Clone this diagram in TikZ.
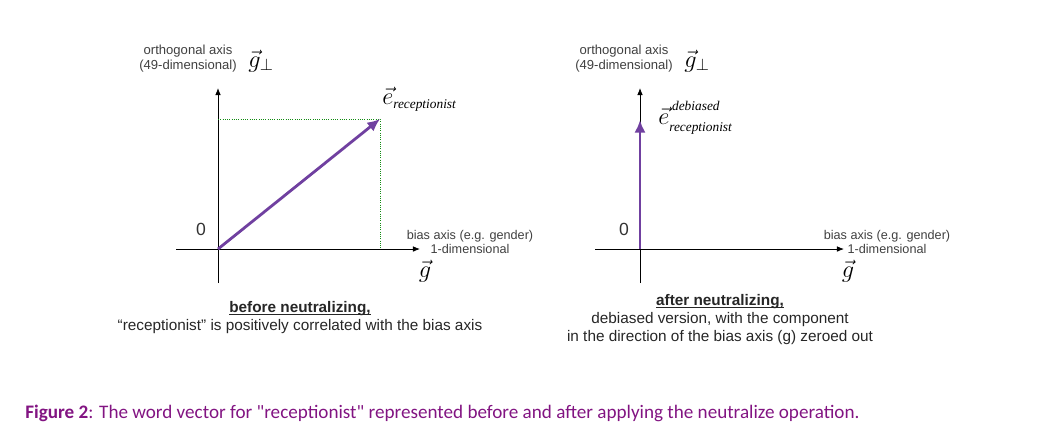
\documentclass[tikz,border=0pt]{standalone}
\usepackage{fontspec}
\setmainfont{Liberation Sans}
\newfontfamily\capfont{Carlito}
\newfontfamily\idxfont{Liberation Serif}
\usetikzlibrary{arrows.meta}

\definecolor{vecpurple}{RGB}{112,64,160}
\definecolor{projgreen}{RGB}{20,140,20}
\definecolor{figpurple}{RGB}{130,20,130}

\newcommand{\vidx}[1]{\mbox{\fontsize{9.5}{10}\idxfont\itshape #1}}
\newcommand{\ulhead}[1]{\underline{\smash{\textbf{#1}}}}

\begin{document}
\begin{tikzpicture}[
    x=0.025cm, y=-0.025cm,
    axis/.style={-{Latex[length=5pt,width=4pt]}, line width=0.6pt},
    vecarrow/.style={-{Latex[length=9pt,width=8pt]}, line width=2pt, vecpurple},
    proj/.style={densely dotted, projgreen, line width=0.6pt},
    orthlbl/.style={font=\fontsize{9.3}{10.8}\selectfont, align=center, inner sep=0pt, text=black!75},
    biaslbl/.style={font=\fontsize{9}{10.2}\selectfont, align=center, inner sep=0pt, text=black!75},
    zerolbl/.style={font=\fontsize{12.5}{14}\selectfont, inner sep=0pt, text=black!80},
    mathlbl/.style={font=\fontsize{17}{19}\selectfont, inner sep=0pt},
    caption/.style={font=\fontsize{10.9}{12.6}\selectfont, align=center, inner sep=0pt, text=black!85}
]
    \useasboundingbox (0,0) rectangle (1043,437);

    % before neutralizing
    \coordinate (O1) at (218,249);
    \coordinate (X1s) at (176,249);
    \coordinate (X1) at (420,249);
    \coordinate (Y1s) at (218,283);
    \coordinate (Y1) at (218,88);
    \coordinate (E1) at (380,119);

    \draw[axis] (X1s) -- (X1);
    \draw[axis] (Y1s) -- (Y1);
    \draw[proj] (O1 |- E1) -- (E1) -- (O1 -| E1);
    \draw[vecarrow] (O1) -- (E1);

    \node[zerolbl] (zero1) at (201,229) {0};
    \node[orthlbl] (orth1) at (188,59) {orthogonal axis\\(49-dimensional)};
    \node[mathlbl] (gperp1) at (261,61) {$\vec{g}_{\perp}$};
    \node[biaslbl] (bias1) at (470,242) {bias axis (e.g. gender)\\1-dimensional};
    \node[mathlbl] (g1) at (425,271) {$\vec{g}$};
    \node[mathlbl, anchor=west] (e1) at (382,99) {$\vec{e}_{\vidx{receptionist}}$};

    \node[caption] (cap1) at (300,323)
        {\ulhead{before neutralizing,}\\``receptionist'' is positively correlated with the bias axis};

    % after neutralizing
    \coordinate (O2) at (640,249);
    \coordinate (X2s) at (595,249);
    \coordinate (X2) at (844,249);
    \coordinate (Y2s) at (640,283);
    \coordinate (Y2) at (640,88);
    \coordinate (E2) at (640,120);

    \draw[axis] (X2s) -- (X2);
    \draw[axis] (Y2s) -- (Y2);
    \draw[vecarrow] (O2) -- (E2);

    \node[zerolbl] (zero2) at (624,229) {0};
    \node[orthlbl] (orth2) at (624,59) {orthogonal axis\\(49-dimensional)};
    \node[mathlbl] (gperp2) at (697,61) {$\vec{g}_{\perp}$};
    \node[biaslbl] (bias2) at (887,242) {bias axis (e.g. gender)\\1-dimensional};
    \node[mathlbl] (g2) at (848,271) {$\vec{g}$};
    \node[mathlbl, anchor=west] (e2) at (658,118)
        {$\vec{e}^{\,\raisebox{3pt}{\vidx{debiased}}}_{\raisebox{-1pt}{\vidx{receptionist}}}$};

    \node[caption] (cap2) at (720,325)
        {\ulhead{after neutralizing,}\\debiased version, with the component\\in the direction of the bias axis (g) zeroed out};

    % figure caption
    \node[anchor=west, inner sep=0pt, text=figpurple, font=\capfont\fontsize{13.6}{16}\selectfont] (figcap) at (25,413)
        {\textbf{Figure 2}: The word vector for "receptionist" represented before and after applying the neutralize operation.};
\end{tikzpicture}
\end{document}
